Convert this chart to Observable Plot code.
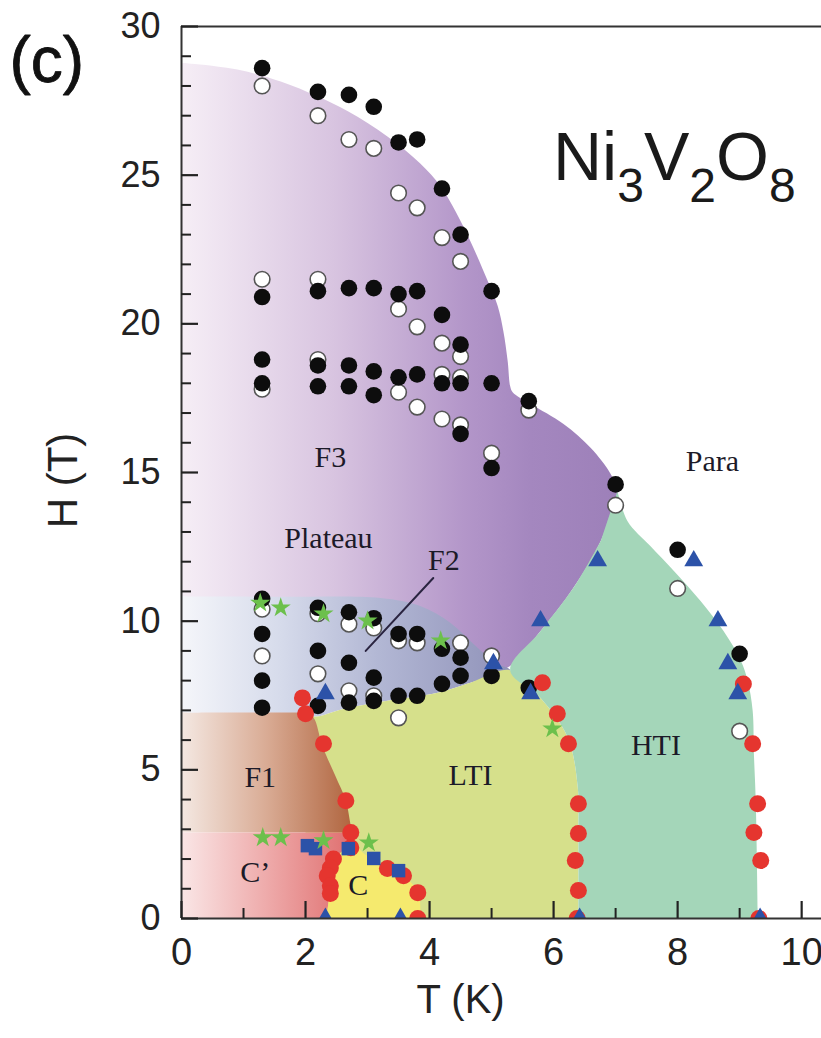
<!DOCTYPE html>
<html><head><meta charset="utf-8">
<script src="https://cdn.jsdelivr.net/npm/d3@7"></script>
<script src="https://cdn.jsdelivr.net/npm/@observablehq/plot@0.6"></script>
<style>
body{margin:0;background:#fff}
#chart{width:821px;height:1038px;position:relative}
</style>
</head><body><div id="chart"></div>
<script>
// ---------- tick values ----------
const xTicks = [0, 2, 4, 6, 8, 10];
const xMinorTicks = [1, 3, 5, 7, 9];
const yTicks = [0, 5, 10, 15, 20, 25, 30];
const yMinorTicks = [1,2,3,4,6,7,8,9,11,12,13,14,16,17,18,19,21,22,23,24,26,27,28,29];

// ---------- phase regions: [T (K), H (T)] boundary points ----------
const regionPurple = [[0,6.92],[0,28.5],[0,28.75],[0.15,28.75],[0.90,28.55],[1.60,28.15],[2.19,27.65],[2.69,27.14],[3.32,26.30],[3.85,25.39],[4.18,24.62],[4.42,23.78],[4.66,22.77],[4.94,21.43],[5.10,20.59],[5.19,19.75],[5.26,18.74],[5.30,17.9],[5.34,17.70],[5.63,17.30],[6.16,16.63],[6.60,15.82],[6.92,14.95],[7.03,14.38],[6.76,12.70],[6.32,11.12],[5.79,9.67],[5.23,8.40],[3.5,7.5],[2.0,6.92]];
const regionF2 = [[0,6.92],[0,10.7],[0,10.83],[0.1,10.83],[1.6,10.82],[3.21,10.78],[3.85,10.51],[4.34,9.94],[4.74,9.17],[5.06,8.60],[5.30,8.35],[4.66,7.93],[4.13,7.59],[3.32,7.32],[2.61,7.05],[2.13,6.79],[2.0,6.92]];
const regionLTI = [[2.0,6.92],[2.13,6.79],[2.61,7.05],[3.32,7.32],[4.13,7.59],[4.66,7.93],[5.30,8.35],[5.79,7.42],[6.23,6.08],[6.39,4.40],[6.40,2.96],[6.40,0.3],[6.40,0],[6.2,0],[2.0,0]];
const regionHTI = [[7.03,14.38],[7.19,13.37],[7.56,12.53],[7.94,11.69],[8.37,10.68],[8.74,9.67],[9.02,8.67],[9.13,7.99],[9.21,6.99],[9.23,5.54],[9.26,3.96],[9.29,0.3],[9.29,0],[9.1,0],[6.6,0],[6.40,0],[6.40,0.3],[6.40,2.96],[6.39,4.40],[6.23,6.08],[5.79,7.42],[5.30,8.35],[5.79,9.67],[6.32,11.12],[6.76,12.70]];
const regionF1 = [[0,2.89],[0,6.8],[0,6.92],[0.1,6.92],[1.9,6.92],[2.0,6.91],[2.13,6.75],[2.27,5.81],[2.48,4.80],[2.65,3.96],[2.73,3.12],[2.76,2.89]];
const regionCprime = [[0,0],[0,2.8],[0,2.89],[0.1,2.89],[2.6,2.89],[2.76,2.89],[2.70,2.40],[2.45,1.95],[2.35,1.40],[2.38,0.80],[2.33,0]];
const regionC = [[2.33,0],[2.38,0.80],[2.35,1.40],[2.45,1.95],[2.75,2.45],[3.0,2.1],[3.3,1.75],[3.6,1.4],[3.82,0.85],[3.85,0]];

// ---------- measured points ----------
const blackDots = [
  [1.3,28.6],[1.3,20.9],[1.3,18.8],[1.3,18.0],[1.3,10.75],[1.3,9.57],[1.3,8.0],[1.3,7.09],
  [2.2,27.8],[2.2,21.1],[2.2,18.6],[2.2,17.9],[2.2,10.45],[2.2,9.0],[2.2,7.15],
  [2.7,27.7],[2.7,21.2],[2.7,18.6],[2.7,17.9],[2.7,10.3],[2.7,8.6],[2.7,7.26],
  [3.1,27.3],[3.1,21.2],[3.1,18.4],[3.1,17.6],[3.1,10.1],[3.1,8.1],[3.1,7.32],
  [3.5,26.1],[3.5,21.0],[3.5,18.2],[3.5,9.57],[3.5,7.49],
  [3.8,26.2],[3.8,21.1],[3.8,18.3],[3.8,9.57],[3.8,7.49],
  [4.2,24.55],[4.2,20.3],[4.2,18.0],[4.2,9.07],[4.2,7.89],
  [4.5,23.0],[4.5,19.3],[4.5,18.0],[4.5,16.3],[4.5,8.77],[4.5,8.16],
  [5.0,21.1],[5.0,18.0],[5.0,15.15],[5.0,8.16],
  [5.6,17.4],[5.6,7.76],
  [7.0,14.6],[8.0,12.4],[9.0,8.9]
];
const openDots = [
  [1.3,28.0],[1.3,21.5],[1.3,17.8],[1.3,10.4],[1.3,8.83],
  [2.2,27.0],[2.2,21.5],[2.2,18.8],[2.2,10.25],[2.2,8.23],
  [2.7,26.2],[2.7,9.9],[2.7,7.66],
  [3.1,25.9],[3.1,9.77],[3.1,7.49],
  [3.5,24.4],[3.5,20.5],[3.5,17.7],[3.5,9.34],[3.5,6.75],
  [3.8,23.9],[3.8,19.9],[3.8,17.2],[3.8,9.27],
  [4.2,22.9],[4.2,19.35],[4.2,18.3],[4.2,16.8],
  [4.5,22.1],[4.5,18.9],[4.5,18.2],[4.5,16.6],[4.5,9.27],
  [5.0,15.65],[5.0,8.83],
  [5.6,17.1],[7.0,13.9],[8.0,11.1],[9.0,6.3]
];
const redDots = [
  [1.95,7.42],[2.0,6.89],[2.29,5.88],[2.65,3.96],[2.73,2.89],
  [2.73,2.38],[2.45,2.0],[2.40,1.70],[2.35,1.44],[2.40,1.1],[2.40,0.84],
  [3.32,1.68],[3.58,1.44],[3.81,0.87],[3.81,0],
  [5.82,7.93],[6.06,6.89],[6.24,5.88],[6.40,3.86],[6.40,2.86],[6.35,1.95],[6.40,0.94],[6.38,0],
  [9.06,7.89],[9.21,5.88],[9.29,3.86],[9.23,2.89],[9.34,1.95],[9.31,0]
];
const blueTriangles = [
  [6.71,12.03],[8.26,12.03],[5.79,10.01],[8.65,10.01],[5.03,8.57],[8.81,8.57],
  [5.63,7.56],[8.97,7.56],[2.32,7.56],
  [2.32,0],[3.53,0],[6.42,0],[9.33,0]
];
const blueSquares = [[2.03,2.45],[2.16,2.35],[2.69,2.35],[3.10,2.02],[3.50,1.61]];
const greenStars = [
  [1.27,10.61],[1.60,10.45],[2.29,10.25],[3.0,10.01],[4.18,9.34],[5.98,6.38],
  [1.31,2.72],[1.60,2.72],[2.29,2.62],[3.02,2.55]
];

// ---------- annotations ----------
const phaseLabels = [
  {T:2.40,H:15.5,text:"F3"},
  {T:2.37,H:12.8,text:"Plateau"},
  {T:4.23,H:12.03,text:"F2"},
  {T:1.27,H:4.74,text:"F1"},
  {T:1.19,H:1.55,text:"C\u2019"},
  {T:2.85,H:1.11,text:"C"},
  {T:4.66,H:4.8,text:"LTI"},
  {T:7.65,H:5.81,text:"HTI"},
  {T:8.56,H:15.38,text:"Para"}
];
const f2Leader = [[2.97,9.0],[4.06,11.45]];
const formula = [["Ni",false],["3",true],["V",false],["2",true],["O",false],["8",true]];

const gradients = [
  ["gPurple", [[0,"#f6eef6"],[0.35,"#d8c4e0"],[0.65,"#b396c9"],[0.8,"#a487bf"],[1,"#9d80b9"]]],
  ["gF2", [[0,"#f5f6fa"],[0.3,"#d6dbeb"],[0.6,"#b2b7d4"],[1,"#9092b9"]]],
  ["gF1", [[0,"#f4e8e2"],[0.5,"#d9ab94"],[1,"#b0653f"]]],
  ["gCp", [[0,"#fae6e6"],[0.5,"#eeaaaa"],[1,"#df6e6e"]]]
];

const SANS = "Liberation Sans, Arial, Helvetica, sans-serif";
const SERIF = "Liberation Serif, Times New Roman, serif";

function gradientDefs() {
  const defs = d3.create("svg:defs");
  for (const [id, stops] of gradients) {
    const g = defs.append("linearGradient").attr("id", id)
      .attr("x1", 0).attr("x2", 1).attr("y1", 0).attr("y2", 0);
    for (const [o, c] of stops) g.append("stop").attr("offset", o).attr("stop-color", c);
  }
  return defs.node();
}
function titleMark() {
  const t = d3.create("svg:text")
    .attr("x", 553).attr("y", 180).attr("text-anchor", "start")
    .attr("font-family", SANS).attr("font-size", 68).attr("fill", "#1a1a1a");
  let sub = false;
  for (const [s, isSub] of formula) {
    const sp = t.append("tspan").text(s);
    if (isSub && !sub) sp.attr("dy", 22).attr("font-size", 48);
    else if (isSub) sp.attr("font-size", 48);
    else if (sub) sp.attr("dy", -22);
    sub = isSub;
  }
  return t.node();
}

const W = 821, H = 1038, ML = 181, MR = 0, MT = 26, MB = 120;
const PW = W - ML - MR, PH = H - MT - MB;
const X = d => d[0], Y = d => d[1];
const region = (data, fill) => Plot.line(data, {x: X, y: Y, fill, stroke: "none", curve: "catmull-rom", clip: true});

const chart = Plot.plot({
  width: W, height: H,
  marginLeft: ML, marginRight: MR, marginTop: MT, marginBottom: MB,
  x: {domain: [0, 10.32]},
  y: {domain: [0, 30]},
  style: {fontFamily: SANS, background: "white", overflow: "visible", color: "#222"},
  marks: [
    gradientDefs,
    region(regionPurple, "url(#gPurple)"),
    region(regionF2, "url(#gF2)"),
    region(regionLTI, "#d6e08b"),
    region(regionHTI, "#a4d6b9"),
    region(regionF1, "url(#gF1)"),
    region(regionCprime, "url(#gCp)"),
    region(regionC, "#f5ea6e"),
    Plot.line(f2Leader, {x: X, y: Y, stroke: "#2a2440", strokeWidth: 2}),
    Plot.text(phaseLabels, {x: "T", y: "H", text: "text", fontFamily: SERIF, fontSize: 30, fill: "#1c1a28"}),
    Plot.dot(openDots, {x: X, y: Y, r: 7.8, fill: "white", stroke: "#555", strokeWidth: 1.6, clip: true}),
    Plot.dot(blackDots, {x: X, y: Y, r: 8.3, fill: "#0d0d0d", clip: true}),
    Plot.dot(redDots, {x: X, y: Y, r: 8.5, fill: "#e5352f", clip: true}),
    Plot.dot(blueTriangles, {x: X, y: Y, r: 7, symbol: "triangle", fill: "#2c52a8", clip: true}),
    Plot.dot(blueSquares, {x: X, y: Y, r: 7.6, symbol: "square", fill: "#2c52a8", clip: true}),
    Plot.dot(greenStars, {x: X, y: Y, r: 6.3, symbol: "star", fill: "#6cc04c", clip: true}),
    // frame
    Plot.ruleY([0, 30], {stroke: "#333", strokeWidth: 2}),
    Plot.ruleX([0], {stroke: "#333", strokeWidth: 2}),
    // inward ticks
    Plot.tickX(xTicks, {x: d => d, insetTop: PH - 17, stroke: "#222", strokeWidth: 2.2}),
    Plot.tickX(xMinorTicks, {x: d => d, insetTop: PH - 10, stroke: "#222", strokeWidth: 2}),
    Plot.tickY(yTicks, {y: d => d, insetRight: PW - 17, stroke: "#222", strokeWidth: 2.2}),
    Plot.tickY(yMinorTicks, {y: d => d, insetRight: PW - 10, stroke: "#222", strokeWidth: 2}),
    Plot.axisX(xTicks, {anchor: "bottom", tickSize: 0, tickPadding: 20, fontSize: 38, label: null, fill: "#222"}),
    Plot.axisY(yTicks, {anchor: "left", tickSize: 0, tickPadding: 21, fontSize: 36, label: null, fill: "#222"}),
    Plot.text(["T (K)"], {x: 4.5, frameAnchor: "bottom", dy: 94, fontSize: 40, fill: "#222"}),
    Plot.text(["H (T)"], {frameAnchor: "left", dx: -118, dy: 8, rotate: -90, textAnchor: "middle", fontSize: 42, fill: "#222"}),
    Plot.text(["(c)"], {frameAnchor: "top-left", textAnchor: "start", lineAnchor: "top", dx: -172, dy: 10, fontSize: 64, fill: "#111", stroke: "#111", strokeWidth: 0.8}),
    titleMark
  ]
});
document.getElementById("chart").appendChild(chart);
</script></body></html>
